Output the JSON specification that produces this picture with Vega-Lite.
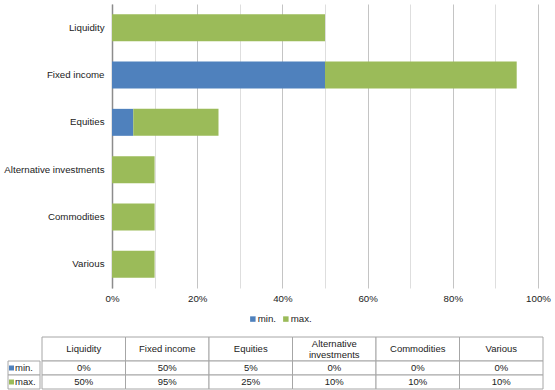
{
  "$schema": "https://vega.github.io/schema/vega-lite/v6.json",
  "padding": {"left": 3, "top": 4, "right": 0, "bottom": 0},
  "spacing": 12,
  "config": {"view": {"stroke": null}, "font": "Liberation Sans"},
  "resolve": {"scale": {"x": "independent", "y": "independent", "color": "independent"}, "legend": {"color": "independent"}},
  "datasets": {
    "alloc": [
      {"cat": "Liquidity", "hdr": "Liquidity", "min": 0, "max": 0.5},
      {"cat": "Fixed income", "hdr": "Fixed income", "min": 0.5, "max": 0.95},
      {"cat": "Equities", "hdr": "Equities", "min": 0.05, "max": 0.25},
      {"cat": "Alternative investments", "hdr": "Alternative\ninvestments", "min": 0, "max": 0.1},
      {"cat": "Commodities", "hdr": "Commodities", "min": 0, "max": 0.1},
      {"cat": "Various", "hdr": "Various", "min": 0, "max": 0.1}
    ],
    "rows": [
      {"s": "min", "label": "min."},
      {"s": "max", "label": "max."}
    ]
  },
  "vconcat": [
    {
      "width": 537,
      "height": 284,
      "data": {"name": "alloc"},
      "encoding": {
        "y": {
          "field": "cat", "type": "nominal",
          "sort": ["Liquidity", "Fixed income", "Equities", "Alternative investments", "Commodities", "Various"],
          "scale": {"paddingInner": 0.43, "paddingOuter": 0.215},
          "axis": {"title": null, "offset": -108, "ticks": false, "domain": true, "domainColor": "#8c8c8c", "domainWidth": 1.5, "grid": false, "labelPadding": 8, "labelFontSize": 9.7, "labelColor": "#222222", "labelFont": "Liberation Sans", "labelLimit": 200}
        }
      },
      "layer": [
        {
          "mark": {"type": "bar", "stroke": null},
          "encoding": {
            "x": {
              "field": "min", "type": "quantitative",
              "scale": {"domain": [0, 1], "nice": false, "range": [108, 534]},
              "axis": {
                "title": null,
                "values": [0, 0.05, 0.1, 0.15, 0.2, 0.25, 0.3, 0.35, 0.4, 0.45, 0.5, 0.55, 0.6, 0.65, 0.7, 0.75, 0.8, 0.85, 0.9, 0.95, 1],
                "format": ".0%",
                "labelExpr": "round(datum.value*100) % 20 === 0 ? datum.label : ''",
                "labelFlush": false,
                "domain": false, "ticks": false, "grid": true,
                "gridColor": {"condition": {"test": "round(datum.value*100) % 20 === 0", "value": "#c4c4c4"}, "value": "#dedede"},
                "labelPadding": 5, "labelFontSize": 9.7, "labelColor": "#222222", "labelFont": "Liberation Sans"
              }
            },
            "color": {
              "datum": "min.",
              "scale": {"domain": ["min.", "max."], "range": ["#4f81bd", "#9bbb59"]},
              "legend": {
                "title": null, "orient": "none", "legendX": 244, "legendY": 310, "direction": "horizontal",
                "symbolType": "square", "symbolSize": 30, "symbolStrokeWidth": 0, "labelFontSize": 9.7,
                "labelColor": "#222222", "labelFont": "Liberation Sans", "labelOffset": 0, "columnPadding": 4, "padding": 0
              }
            }
          }
        },
        {
          "mark": {"type": "bar", "stroke": null},
          "encoding": {
            "x": {"field": "min", "type": "quantitative"},
            "x2": {"field": "max"},
            "color": {"datum": "max."}
          }
        }
      ]
    },
    {
      "spacing": 0,
      "resolve": {"scale": {"x": "independent", "y": "independent", "color": "independent"}},
      "hconcat": [
        {
          "width": 36,
          "height": 52,
          "data": {"name": "rows"},
          "encoding": {
            "x": {"datum": "lab", "type": "nominal", "axis": null, "scale": {"type": "band", "domain": ["lab"], "paddingInner": 0, "paddingOuter": 0, "range": [4, 36]}},
            "y": {"field": "s", "type": "nominal", "axis": null, "scale": {"type": "band", "domain": ["min", "max"], "paddingInner": 0, "paddingOuter": 0.857143, "align": 1}}
          },
          "layer": [
            {"mark": {"type": "rect", "fill": "white", "stroke": "#a6a6a6", "strokeWidth": 1}},
            {
              "mark": {"type": "point", "shape": "square", "filled": true, "opacity": 1, "size": 25, "xOffset": -12.5},
              "encoding": {
                "color": {"field": "label", "type": "nominal", "legend": null, "scale": {"domain": ["min.", "max."], "range": ["#4f81bd", "#9bbb59"]}}
              }
            },
            {
              "mark": {"type": "text", "fontSize": 9.5, "color": "#222222", "baseline": "middle", "align": "left", "dx": -9, "font": "Liberation Sans"},
              "encoding": {"text": {"field": "label"}}
            }
          ]
        },
        {
          "width": 501,
          "height": 52,
          "data": {"name": "alloc"},
          "resolve": {"scale": {"y": "independent"}},
          "encoding": {
            "x": {"field": "cat", "type": "nominal", "axis": null, "sort": ["Liquidity", "Fixed income", "Equities", "Alternative investments", "Commodities", "Various"], "scale": {"type": "band", "paddingInner": 0, "paddingOuter": 0}}
          },
          "layer": [
            {
              "mark": {"type": "rect", "fill": "white", "stroke": "#a6a6a6", "strokeWidth": 1},
              "encoding": {
                "y": {"datum": "header", "type": "nominal", "axis": null, "scale": {"type": "band", "domain": ["header"], "paddingInner": 0, "paddingOuter": 0.583333, "align": 0}}
              }
            },
            {
              "transform": [{"filter": "datum.cat !== 'Alternative investments'"}],
              "mark": {"type": "text", "fontSize": 9.5, "color": "#222222", "baseline": "middle", "font": "Liberation Sans"},
              "encoding": {
                "y": {"datum": "header", "type": "nominal", "axis": null, "scale": {"type": "band", "domain": ["header"], "paddingInner": 0, "paddingOuter": 0.583333, "align": 0}},
                "text": {"field": "hdr"}
              }
            },
            {
              "transform": [{"filter": "datum.cat === 'Alternative investments'"}],
              "mark": {"type": "text", "fontSize": 9.5, "color": "#222222", "baseline": "middle", "lineBreak": "\n", "lineHeight": 10.5, "dy": -5, "font": "Liberation Sans"},
              "encoding": {
                "y": {"datum": "header", "type": "nominal", "axis": null, "scale": {"type": "band", "domain": ["header"], "paddingInner": 0, "paddingOuter": 0.583333, "align": 0}},
                "text": {"field": "hdr"}
              }
            },
            {
              "transform": [{"fold": ["min", "max"], "as": ["s", "v"]}],
              "mark": {"type": "rect", "fill": "white", "stroke": "#a6a6a6", "strokeWidth": 1},
              "encoding": {
                "y": {"field": "s", "type": "nominal", "axis": null, "scale": {"type": "band", "domain": ["min", "max"], "paddingInner": 0, "paddingOuter": 0.857143, "align": 1}}
              }
            },
            {
              "transform": [{"fold": ["min", "max"], "as": ["s", "v"]}],
              "mark": {"type": "text", "fontSize": 9.5, "color": "#222222", "baseline": "middle", "font": "Liberation Sans"},
              "encoding": {
                "y": {"field": "s", "type": "nominal", "axis": null, "scale": {"type": "band", "domain": ["min", "max"], "paddingInner": 0, "paddingOuter": 0.857143, "align": 1}},
                "text": {"field": "v", "type": "quantitative", "format": ".0%"}
              }
            }
          ]
        }
      ]
    }
  ]
}
